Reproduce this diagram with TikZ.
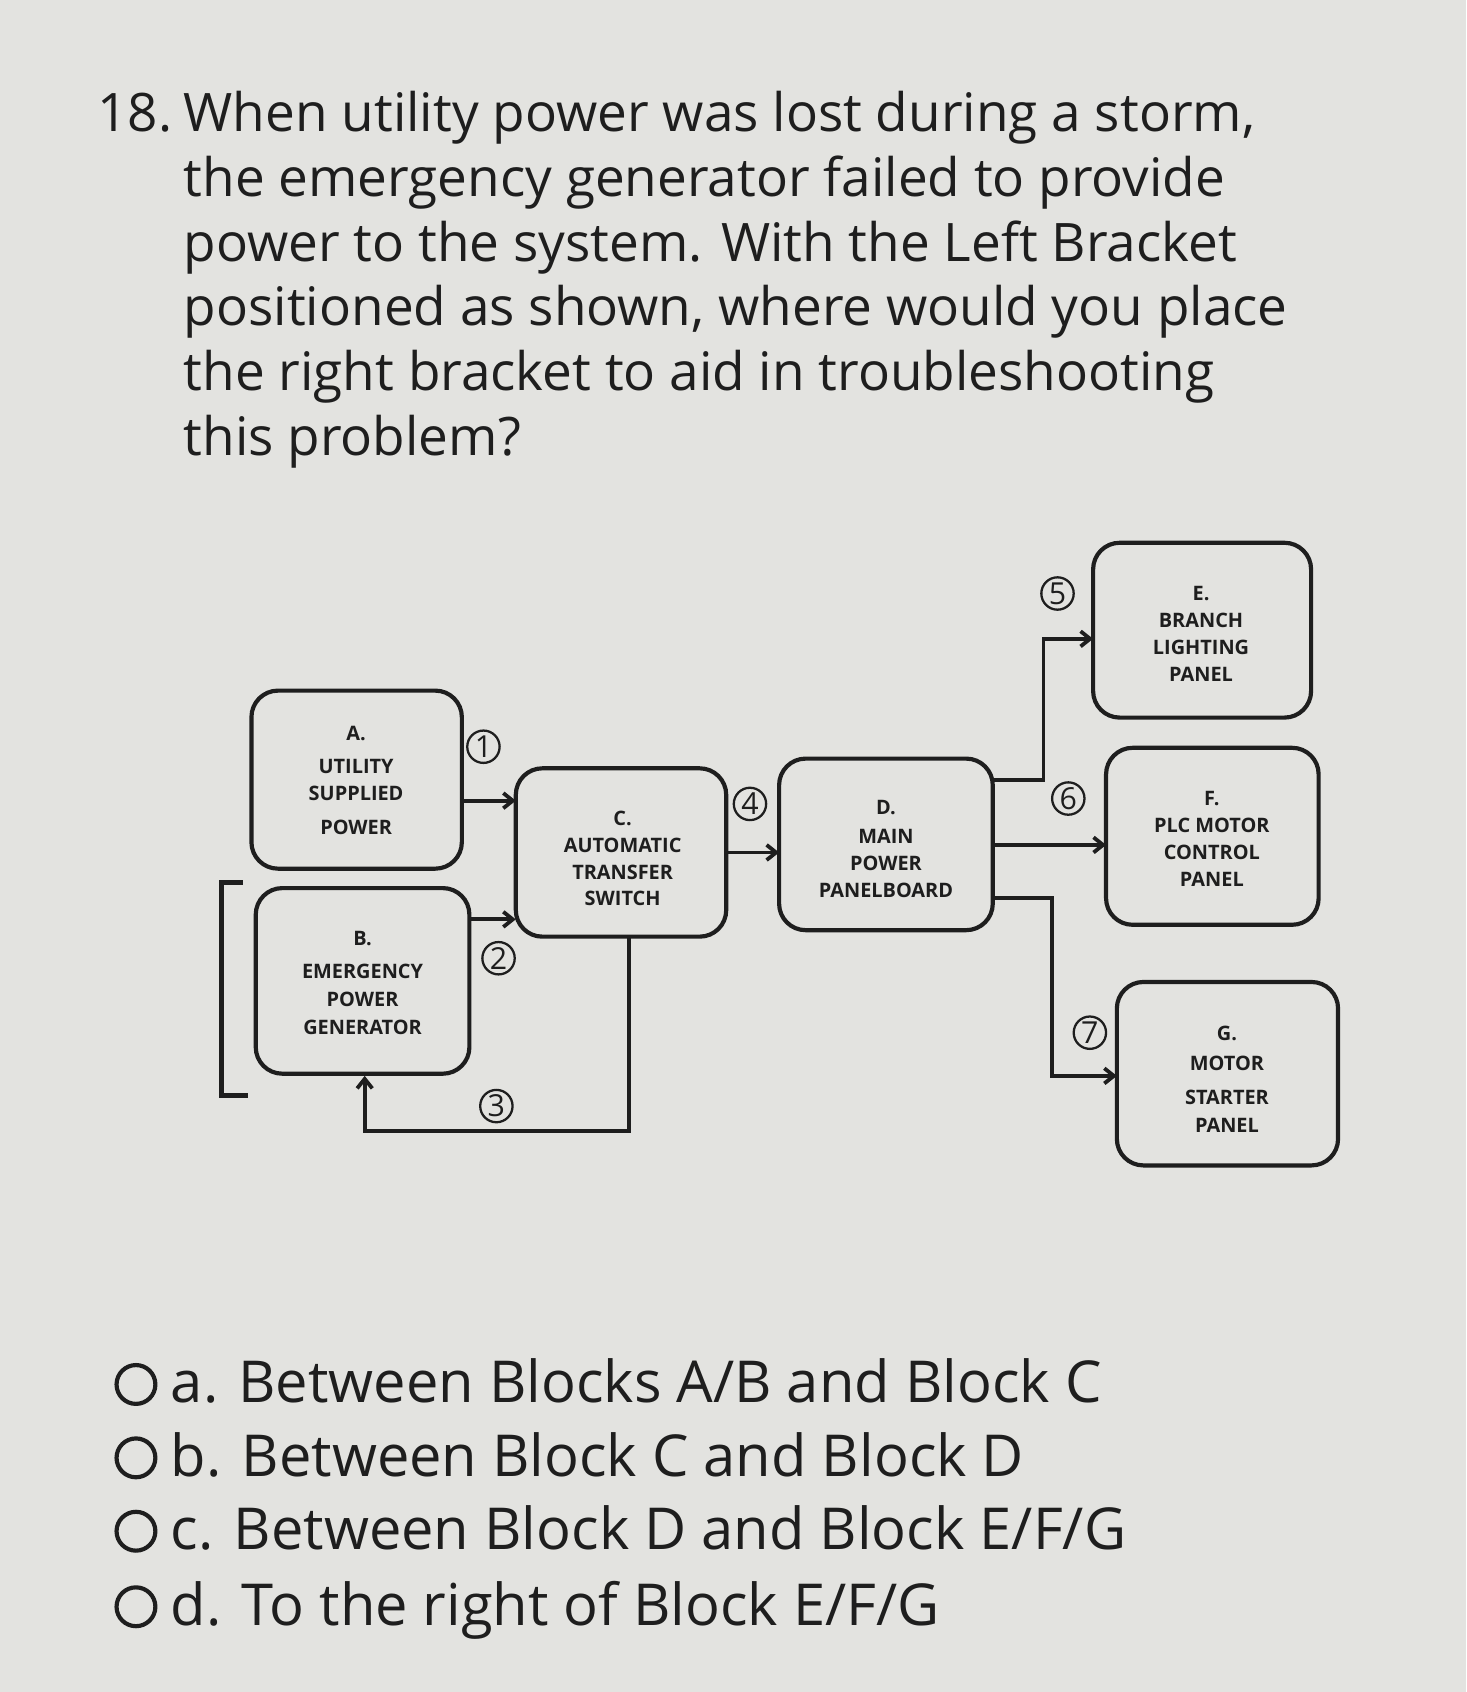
\documentclass[tikz,border=0pt]{standalone}
\usepackage{fontspec}
\setmainfont{Open Sans}
\usetikzlibrary{arrows.meta}
\definecolor{bg}{HTML}{E3E3E0}
\definecolor{ink}{HTML}{1E1E1E}
\begin{document}
\begin{tikzpicture}[x=0.02cm,y=-0.02cm,
  q/.style={anchor=base west,inner sep=0,text=ink,font=\fontsize{28}{32}\selectfont},
  ans/.style={anchor=base west,inner sep=0,text=ink,font=\fontsize{30.5}{34}\selectfont},
  blk/.style={draw=ink,line width=2.2pt,rounded corners=14pt,fill=bg},
  bt/.style={text=ink,inner sep=0,font=\fontsize{10.5}{12}\selectfont\bfseries},
  num/.style={circle,draw=ink,line width=1.2pt,inner sep=0,minimum size=0.6cm,text=ink,font=\fontsize{16}{16}\selectfont},
  con/.style={draw=ink,line width=2pt,-{Straight Barb[length=5pt,width=8pt]}},
  ln/.style={draw=ink,line width=2pt}]
\fill[bg] (0,0) rectangle (1359,1568);
\useasboundingbox (0,0) rectangle (1359,1568);
\node[q] (q0) at (90,122) {18.};
\node[q] (q1) at (170,122) {When utility power was lost during a storm,};
\node[q] (q2) at (170,182) {the emergency generator failed to provide};
\node[q] (q3) at (170,242) {power to the system. With the Left Bracket};
\node[q] (q4) at (170,302) {positioned as shown, where would you place};
\node[q] (q5) at (170,362) {the right bracket to aid in troubleshooting};
\node[q] (q6) at (170,422) {this problem?};
% blocks
\path[blk] (233,640) rectangle (428,805);
\path[blk] (237,823) rectangle (435,995);
\path[blk] (478,712) rectangle (673,868);
\path[blk] (722,703) rectangle (920,862);
\path[blk] (1013,503) rectangle (1215,665);
\path[blk] (1025,693) rectangle (1222,857);
\path[blk] (1035,910) rectangle (1240,1080);
\node[bt] (ta1) at (330,680) {A.};
\node[bt] (ta2) at (330,710) {UTILITY};
\node[bt] (ta3) at (330,735) {SUPPLIED};
\node[bt] (ta4) at (330,767) {POWER};
\node[bt] (tb1) at (336,870) {B.};
\node[bt] (tb2) at (336,900) {EMERGENCY};
\node[bt] (tb3) at (336,926) {POWER};
\node[bt] (tb4) at (336,952) {GENERATOR};
\node[bt] (tc1) at (577,758) {C.};
\node[bt] (tc2) at (577,783) {AUTOMATIC};
\node[bt] (tc3) at (577,808) {TRANSFER};
\node[bt] (tc4) at (577,833) {SWITCH};
\node[bt] (td1) at (821,748) {D.};
\node[bt] (td2) at (821,775) {MAIN};
\node[bt] (td3) at (821,800) {POWER};
\node[bt] (td4) at (821,825) {PANELBOARD};
\node[bt] (te1) at (1113,550) {E.};
\node[bt] (te2) at (1113,575) {BRANCH};
\node[bt] (te3) at (1113,600) {LIGHTING};
\node[bt] (te4) at (1113,625) {PANEL};
\node[bt] (tf1) at (1123,740) {F.};
\node[bt] (tf2) at (1123,765) {PLC MOTOR};
\node[bt] (tf3) at (1123,790) {CONTROL};
\node[bt] (tf4) at (1123,815) {PANEL};
\node[bt] (tg1) at (1137,958) {G.};
\node[bt] (tg2) at (1137,985) {MOTOR};
\node[bt] (tg3) at (1137,1017) {STARTER};
\node[bt] (tg4) at (1137,1043) {PANEL};
% connectors
\coordinate (a1) at (428,742); \coordinate (c1) at (478,742);
\draw[con] (a1) -- (c1);
\coordinate (b1) at (435,852); \coordinate (c2) at (478,852);
\draw[con] (b1) -- (c2);
\coordinate (c3) at (583,868); \coordinate (b2) at (338,997);
\draw[con] (c3) -- (583,1048) -- (338,1048) -- (b2);
\coordinate (c4) at (673,790); \coordinate (d1) at (722,790);
\draw[con] (c4) -- (d1);
\coordinate (d2) at (920,723); \coordinate (e1) at (1013,592);
\draw[con] (d2) -- (967,723) -- (967,592) -- (e1);
\coordinate (d3) at (920,783); \coordinate (f1) at (1025,783);
\draw[con] (d3) -- (f1);
\coordinate (d4) at (920,832); \coordinate (g1) at (1035,997);
\draw[con] (d4) -- (975,832) -- (975,997) -- (g1);
\node[num] (n1) at (448,692) {1};
\node[num] (n2) at (462,888) {2};
\node[num] (n3) at (460,1025) {3};
\node[num] (n4) at (695,745) {4};
\node[num] (n5) at (980,550) {5};
\node[num] (n6) at (990,740) {6};
\node[num] (n7) at (1010,957) {7};
% bracket
\draw[ln,line width=2.5pt] (225,818) -- (205,818) -- (205,1015) -- (230,1015);
% answers
\foreach \y/\t [count=\i] in {1300/{a. Between Blocks A/B and Block C},1368/{b. Between Block C and Block D},1436/{c. Between Block D and Block E/F/G},1506/{d. To the right of Block E/F/G}}{
  \node[circle,draw=ink,line width=2.2pt,minimum size=0.72cm,inner sep=0] (o\i) at (126,\y-17) {};
  \node[ans] (t\i) at (158,\y) {\t};
}
\end{tikzpicture}
\end{document}
